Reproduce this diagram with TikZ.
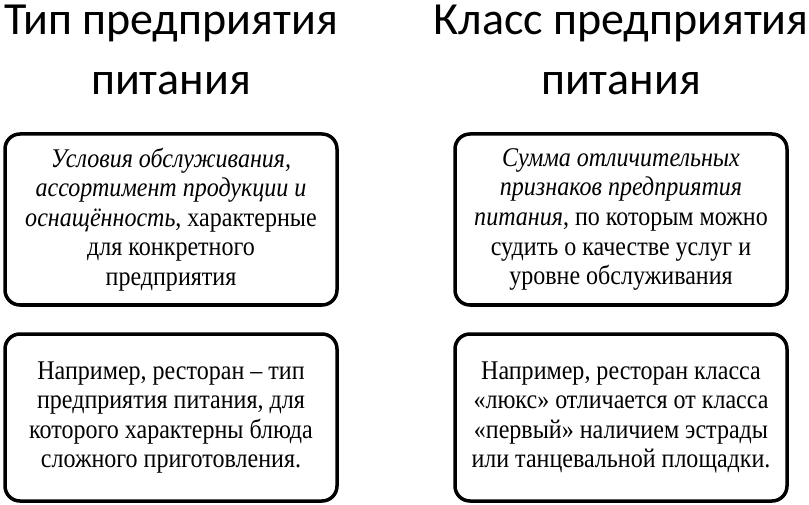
\documentclass[tikz,border=0pt]{standalone}
\usepackage{fontspec}
\setmainfont{Liberation Serif}
\newfontfamily\titlefont{Carlito}
\newfontfamily\bodyfont[FakeStretch=0.89]{Liberation Serif}
\begin{document}
\begin{tikzpicture}[x=1pt,y=-1pt,
  titletext/.style={align=center,inner sep=0pt,font=\titlefont\fontsize{46}{60}\selectfont},
  infobox/.style={draw=black,line width=3.5pt,rounded corners=15pt,minimum width=332pt,
    minimum height=171pt,inner sep=0pt,align=center,
    font=\bodyfont\fontsize{27}{29.6}\selectfont},
  exbox/.style={infobox,minimum height=167pt}]
\useasboundingbox (0,0) rectangle (809,505);
\node[titletext,anchor=base] (t1) at (171,95) {Тип предприятия\\питания};
\node[titletext,anchor=base] (t2) at (621,95) {Класс предприятия\\питания};
\node[infobox] (b1) at (171,219.5) {\textit{Условия обслуживания,}\\\textit{ассортимент продукции и}\\\textit{оснащённость}, характерные\\для конкретного\\предприятия};
\node[infobox] (b2) at (621,219.5) {\textit{Сумма отличительных}\\\textit{признаков предприятия}\\\textit{питания}, по которым можно\\судить о качестве услуг и\\уровне обслуживания};
\node[exbox] (b3) at (171,417.5) {Например, ресторан – тип\\предприятия питания, для\\которого характерны блюда\\сложного приготовления.};
\node[exbox] (b4) at (621,417.5) {Например, ресторан класса\\«люкс» отличается от класса\\«первый» наличием эстрады\\или танцевальной площадки.};
\end{tikzpicture}
\end{document}
